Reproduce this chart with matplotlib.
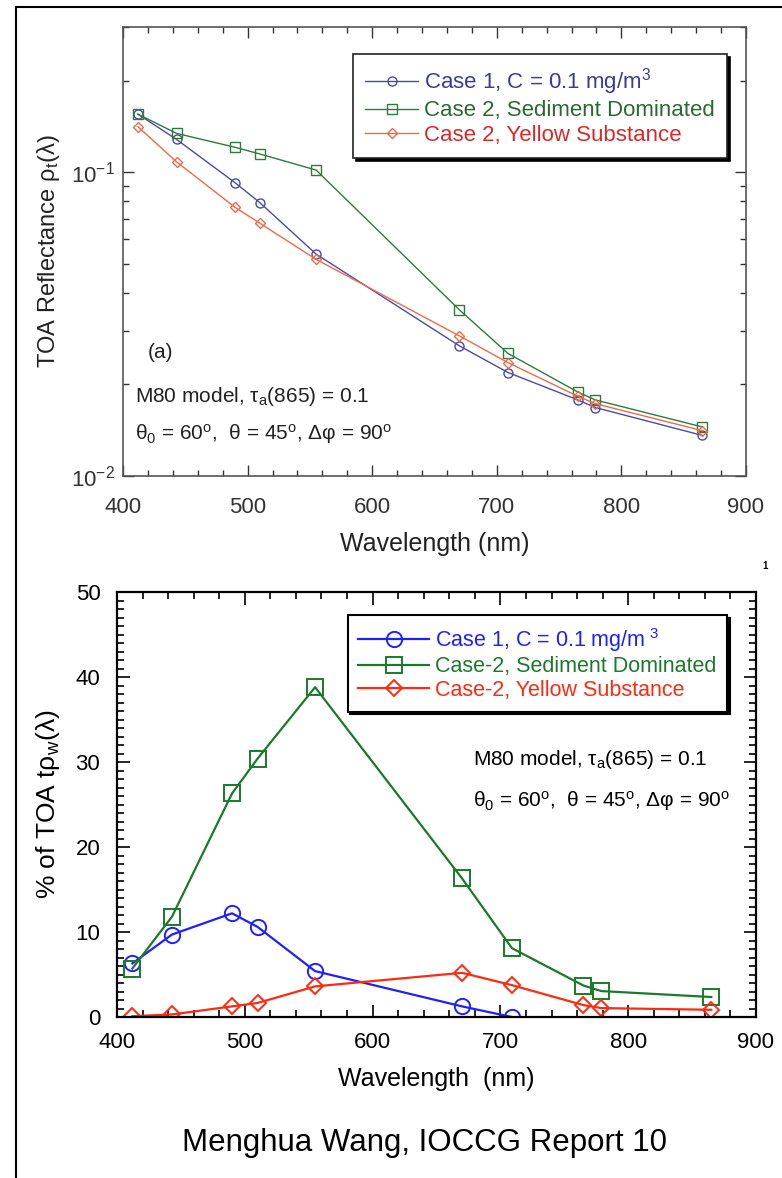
import matplotlib
matplotlib.use("Agg")
import matplotlib.pyplot as plt
from matplotlib.ticker import MultipleLocator, LogLocator, FixedLocator, NullFormatter
from matplotlib.lines import Line2D

plt.rcParams['font.family'] = ['Liberation Sans', 'DejaVu Sans']
plt.rcParams['mathtext.fontset'] = 'custom'
plt.rcParams['mathtext.rm'] = 'Liberation Sans'
plt.rcParams['mathtext.it'] = 'Liberation Sans:italic'
plt.rcParams['mathtext.bf'] = 'Liberation Sans:bold'

# ---------------- data ----------------
wavelengths = [412, 443, 490, 510, 555, 670, 709, 765, 779, 865]

# (a) TOA reflectance
toa_case1 = [0.155, 0.128, 0.0922, 0.0792, 0.0537, 0.0268, 0.0219, 0.0178, 0.0168, 0.0136]
toa_sediment = [0.155, 0.134, 0.1206, 0.1146, 0.1015, 0.0352, 0.0253, 0.0189, 0.0178, 0.0145]
toa_yellow = [0.141, 0.108, 0.0765, 0.0678, 0.0516, 0.0289, 0.0236, 0.0183, 0.0173, 0.0141]

# (b) % of TOA t*rho_w
wavelengths_case1 = [412, 443, 490, 510, 555, 670, 709]
pct_case1 = [6.3, 9.7, 12.2, 10.6, 5.4, 1.25, 0.0]
pct_sediment = [5.7, 11.8, 26.3, 30.4, 38.8, 16.3, 8.1, 3.7, 3.05, 2.35]
pct_yellow = [0.1, 0.3, 1.25, 1.65, 3.6, 5.2, 3.75, 1.4, 1.05, 0.85]

labels_top = ["Case 1, C = 0.1 mg/m$^3$", "Case 2, Sediment Dominated", "Case 2, Yellow Substance"]
labels_bot = ["Case 1, C = 0.1 mg/m$^{\\ 3}$", "Case-2, Sediment Dominated", "Case-2, Yellow Substance"]

W, H = 782, 1178
fig = plt.figure(figsize=(W / 100, H / 100), dpi=100)

def fx(px):
    return px / W

def fy(py):
    return 1 - py / H

# outer frame lines
fig.add_artist(Line2D([fx(16), fx(16)], [fy(7), 0], color='black', lw=1.5, transform=fig.transFigure))
fig.add_artist(Line2D([fx(16), 1], [fy(7), fy(7)], color='black', lw=1.5, transform=fig.transFigure))

line1 = r'M80 model, τ$_{\rm a}$(865) = 0.1'
line2 = r'θ$_{\rm 0}$ = 60$^{\rm o}$,  θ = 45$^{\rm o}$, Δφ = 90$^{\rm o}$'

# ---------------- top panel ----------------
ax1 = fig.add_axes([fx(123), fy(476), fx(746) - fx(123), fy(27) - fy(476)])
c_blue1, c_green1, c_red1 = '#4a4aa6', '#2f7a3c', '#ee6a48'
t_blue1, t_green1, t_red1 = '#3b3b9b', '#2a6a32', '#d42a2a'
ax1.plot(wavelengths, toa_case1, '-o', color=c_blue1, lw=1.0, ms=6.5, mfc='none', mew=1.0, label=labels_top[0])
ax1.plot(wavelengths, toa_sediment, '-s', color=c_green1, lw=1.0, ms=6.5, mfc='none', mew=1.0, label=labels_top[1])
ax1.plot(wavelengths, toa_yellow, '-D', color=c_red1, lw=1.0, ms=5, mfc='none', mew=1.0, label=labels_top[2])
ax1.set_yscale('log')
ax1.set_xlim(400, 900)
ax1.set_ylim(0.01, 0.3)
ax1.xaxis.set_major_locator(MultipleLocator(100))
ax1.xaxis.set_minor_locator(MultipleLocator(20))
ax1.yaxis.set_major_locator(FixedLocator([0.01, 0.1]))
ax1.yaxis.set_minor_locator(LogLocator(base=10, subs=range(2, 10)))
ax1.yaxis.set_minor_formatter(NullFormatter())
ax1.set_yticklabels(['10$^{-2}$', '10$^{-1}$'])
ax1.tick_params(which='both', direction='in', top=True, right=True, labelsize=16, colors='#333333')
ax1.tick_params(which='major', length=8, width=1)
ax1.tick_params(which='minor', length=4, width=1)
ax1.tick_params(axis='x', pad=15)
ax1.tick_params(axis='y', pad=6)
for s in ax1.spines.values():
    s.set_color('#555555')
    s.set_linewidth(1.2)
ax1.set_xlabel('Wavelength (nm)', fontsize=18, labelpad=10, color='#222222')
ax1.set_ylabel('TOA Reflectance ρ$_{\\rm t}$(λ)', fontsize=17, labelpad=6, color='#222222')
leg1 = ax1.legend(loc='upper right', bbox_to_anchor=(0.9695, 0.94), fontsize=16, frameon=True,
                  fancybox=False, shadow={'color': 'black', 'alpha': 1.0}, handlelength=2.4,
                  handletextpad=0.25, borderpad=0.55, labelspacing=0.15, borderaxespad=0)
leg1.get_frame().set_edgecolor('#222222')
leg1.get_frame().set_linewidth(1.2)
for t, c in zip(leg1.get_texts(), [t_blue1, t_green1, t_red1]):
    t.set_color(c)
ax1.text(0.04, 0.274, '(a)', transform=ax1.transAxes, fontsize=15, color='#222222', va='center')
ax1.text(0.02, 0.176, line1, transform=ax1.transAxes, fontsize=15, color='#222222', va='center')
ax1.text(0.02, 0.093, line2, transform=ax1.transAxes, fontsize=15, color='#222222', va='center')

# ---------------- bottom panel ----------------
ax2 = fig.add_axes([fx(117), fy(1017), fx(756) - fx(117), fy(592) - fy(1017)])
c_blue2, c_green2, c_red2 = '#1f1fff', '#1a7a2a', '#ff2a10'
ax2.plot(wavelengths_case1, pct_case1, '-o', color=c_blue2, lw=1.6, ms=11, mfc='none', mew=1.4, label=labels_bot[0])
ax2.plot(wavelengths, pct_sediment, '-s', color=c_green2, lw=1.6, ms=11, mfc='none', mew=1.4, label=labels_bot[1])
ax2.plot(wavelengths, pct_yellow, '-D', color=c_red2, lw=1.6, ms=8, mfc='none', mew=1.4, label=labels_bot[2])
ax2.set_xlim(400, 900)
ax2.set_ylim(0, 50)
ax2.xaxis.set_major_locator(MultipleLocator(100))
ax2.xaxis.set_minor_locator(MultipleLocator(20))
ax2.yaxis.set_major_locator(MultipleLocator(10))
ax2.yaxis.set_minor_locator(MultipleLocator(1))
ax2.tick_params(which='both', direction='in', top=True, right=True, labelsize=16)
ax2.tick_params(which='major', length=9, width=1.2)
ax2.tick_params(which='minor', length=5, width=1.2)
ax2.tick_params(axis='x', pad=11)
ax2.tick_params(axis='y', pad=12)
for s in ax2.spines.values():
    s.set_linewidth(1.6)
ax2.set_xlabel('Wavelength  (nm)', fontsize=18, labelpad=10)
ax2.set_ylabel('% of TOA tρ$_{\\rm w}$(λ)', fontsize=19, labelpad=10)
leg2 = ax2.legend(loc='upper right', bbox_to_anchor=(0.9546, 0.946), fontsize=15.5, frameon=True,
                  fancybox=False, shadow={'color': 'black', 'alpha': 1.0}, handlelength=3.3,
                  handletextpad=0.25, borderpad=0.5, labelspacing=0.12, borderaxespad=0)
leg2.get_frame().set_edgecolor('black')
leg2.get_frame().set_linewidth(1.5)
for t, c in zip(leg2.get_texts(), [c_blue2, c_green2, c_red2]):
    t.set_color(c)
ax2.text(0.557, 0.605, line1, transform=ax2.transAxes, fontsize=15, va='center')
ax2.text(0.557, 0.508, line2, transform=ax2.transAxes, fontsize=15, va='center')

fig.text(fx(765), fy(566), '1', fontsize=7, fontweight='bold', ha='center', va='center')
fig.text(fx(425), fy(1143), 'Menghua Wang, IOCCG Report 10', fontsize=22.5, ha='center', va='center')

fig.savefig('out.png', dpi=100)
